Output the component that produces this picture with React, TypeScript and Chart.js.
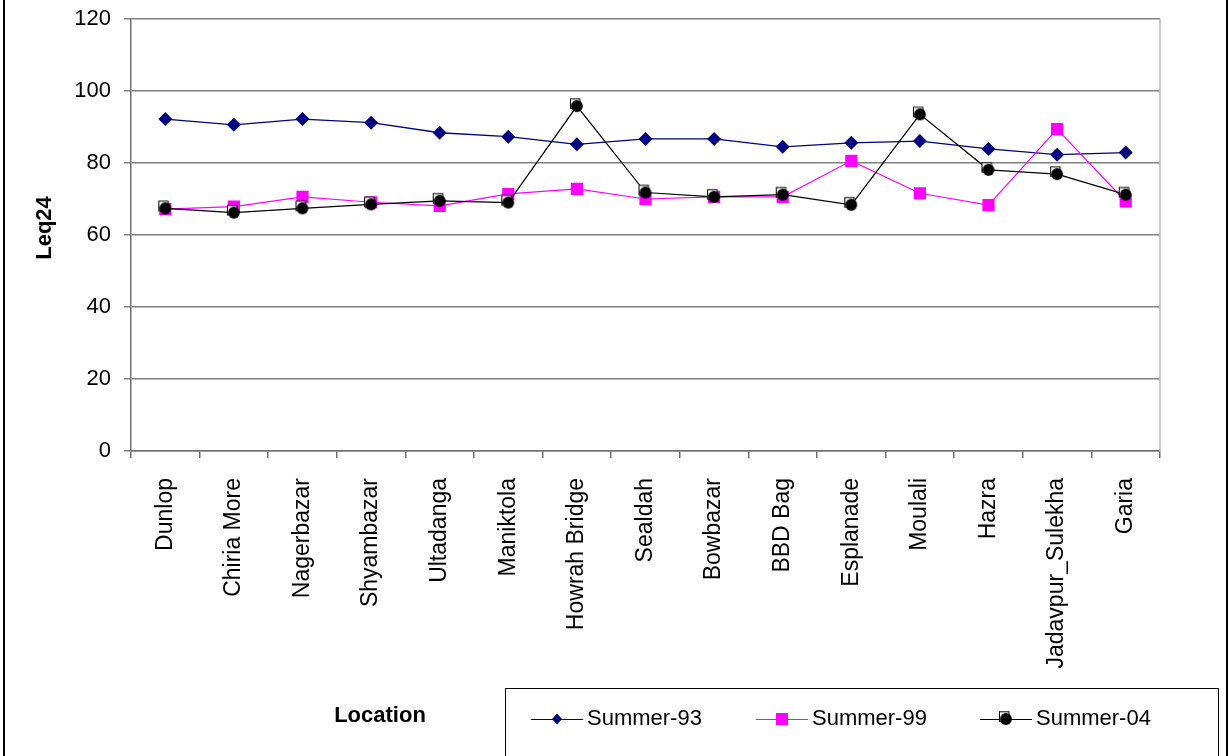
import React, { useEffect, useRef } from "react";
import { Chart, registerables } from "chart.js";

Chart.register(...registerables);

// Noise level (Leq24) at Kolkata monitoring locations, three summer surveys
const locations = [
  "Dunlop",
  "Chiria More",
  "Nagerbazar",
  "Shyambazar",
  "Ultadanga",
  "Maniktola",
  "Howrah Bridge",
  "Sealdah",
  "Bowbazar",
  "BBD Bag",
  "Esplanade",
  "Moulali",
  "Hazra",
  "Jadavpur_Sulekha",
  "Garia",
];
const summer93 = [92.2, 90.6, 92.2, 91.2, 88.4, 87.3, 85.2, 86.7, 86.7, 84.5, 85.6, 86.1, 83.9, 82.3, 82.9];
const summer99 = [67.2, 67.9, 70.6, 69.1, 68.1, 71.4, 72.8, 70.0, 70.6, 70.6, 80.6, 71.6, 68.3, 89.4, 69.3];
const summer04 = [67.4, 66.2, 67.4, 68.5, 69.5, 69.0, 95.8, 71.8, 70.6, 71.2, 68.4, 93.5, 78.1, 76.9, 71.2];
const yTicks = [0, 20, 40, 60, 80, 100, 120];
const seriesNames = ["Summer-93", "Summer-99", "Summer-04"];

const FONT = "Arial, 'Liberation Sans', sans-serif";
const NAVY = "#000080";
const MAGENTA = "#ff00ff";
const BLACK = "#000000";

// Solid disc with a hollow square peeking out at its upper left
function makeDiscMarker(): HTMLCanvasElement {
  const c = document.createElement("canvas");
  c.width = 20;
  c.height = 20;
  const g = c.getContext("2d")!;
  g.fillStyle = "#ffffff";
  g.fillRect(3, 2.5, 10, 10);
  g.strokeStyle = "#000000";
  g.lineWidth = 1;
  g.strokeRect(3.5, 2.8, 9.5, 9.5);
  g.beginPath();
  g.arc(10, 10, 5.9, 0, Math.PI * 2);
  g.fillStyle = "#000000";
  g.fill();
  return c;
}

export default function App() {
  const canvasRef = useRef<HTMLCanvasElement | null>(null);

  useEffect(() => {
    document.body.style.margin = "0";
    const canvas = canvasRef.current;
    if (!canvas) return;
    const disc = makeDiscMarker();

    const framePlugin = {
      id: "frame",
      beforeDraw(chart: any) {
        const ctx = chart.ctx;
        ctx.save();
        ctx.fillStyle = "#ffffff";
        ctx.fillRect(0, 0, chart.width, chart.height);
        ctx.restore();
      },
      afterDraw(chart: any) {
        const ctx: CanvasRenderingContext2D = chart.ctx;
        const a = chart.chartArea;
        ctx.save();
        // plot area right edge
        ctx.strokeStyle = "#b4b4b4";
        ctx.lineWidth = 1.5;
        ctx.beginPath();
        ctx.moveTo(a.right, a.top);
        ctx.lineTo(a.right, a.bottom);
        ctx.stroke();

        // outer chart frame
        ctx.strokeStyle = "#000000";
        ctx.lineWidth = 2;
        ctx.beginPath();
        ctx.moveTo(4, 0);
        ctx.lineTo(4, chart.height);
        ctx.moveTo(1227, 0);
        ctx.lineTo(1227, chart.height);
        ctx.stroke();

        ctx.fillStyle = "#000000";
        ctx.font = `bold 22px ${FONT}`;
        ctx.textAlign = "center";
        ctx.textBaseline = "middle";
        // value axis title
        ctx.save();
        ctx.translate(45, 228);
        ctx.rotate(-Math.PI / 2);
        ctx.fillText("Leq24", 0, 0);
        ctx.restore();
        // category axis title
        ctx.fillText("Location", 380, 716);

        // legend
        ctx.strokeStyle = "#000000";
        ctx.lineWidth = 1;
        ctx.strokeRect(505.5, 688.5, 713, 80);
        const starts = [531, 756, 980];
        const cy = 719;
        chart.data.datasets.forEach((ds: any, i: number) => {
          const x0 = starts[i];
          const cx = x0 + 26;
          ctx.strokeStyle = ds.borderColor;
          ctx.lineWidth = 1.2;
          ctx.beginPath();
          ctx.moveTo(x0, cy + 0.5);
          ctx.lineTo(x0 + 52, cy + 0.5);
          ctx.stroke();
          ctx.fillStyle = ds.backgroundColor;
          if (i === 0) {
            ctx.beginPath();
            ctx.moveTo(cx - 5, cy);
            ctx.lineTo(cx, cy - 5.5);
            ctx.lineTo(cx + 5, cy);
            ctx.lineTo(cx, cy + 5.5);
            ctx.closePath();
            ctx.fill();
          } else if (i === 1) {
            ctx.fillRect(cx - 6, cy - 6, 12, 12);
          } else {
            ctx.drawImage(disc, cx - 10, cy - 10);
          }
          ctx.fillStyle = "#000000";
          ctx.font = `22px ${FONT}`;
          ctx.textAlign = "left";
          ctx.textBaseline = "middle";
          ctx.fillText(ds.label, x0 + 56, cy);
        });
        ctx.restore();
      },
    };

    const chart = new Chart(canvas, {
      type: "line",
      data: {
        labels: locations,
        datasets: [
          {
            label: seriesNames[0],
            data: summer93,
            borderColor: NAVY,
            backgroundColor: NAVY,
            borderWidth: 1.3,
            pointStyle: "rectRot",
            pointRadius: 7,
            pointBorderWidth: 0,
            tension: 0,
            order: 2,
          },
          {
            label: seriesNames[1],
            data: summer99,
            borderColor: MAGENTA,
            backgroundColor: MAGENTA,
            borderWidth: 1.2,
            pointStyle: "rect",
            pointRadius: 8.6,
            pointBorderWidth: 0,
            tension: 0,
            order: 1,
          },
          {
            label: seriesNames[2],
            data: summer04,
            borderColor: BLACK,
            backgroundColor: BLACK,
            borderWidth: 1.2,
            pointStyle: disc,
            pointRadius: 10,
            tension: 0,
            order: 0,
          },
        ],
      },
      options: {
        animation: false,
        responsive: false,
        devicePixelRatio: 1,
        layout: { padding: { left: 0, right: 69, top: 19, bottom: 0 } },
        plugins: {
          legend: { display: false },
          tooltip: { enabled: false },
        },
        scales: {
          x: {
            type: "category",
            offset: true,
            grid: {
              display: true,
              drawOnChartArea: false,
              drawTicks: true,
              tickLength: 7,
              offset: true,
              color: "#707070",
              lineWidth: 1.5,
            },
            border: { display: true, color: "#707070", width: 1.5 },
            ticks: {
              autoSkip: false,
              maxRotation: 90,
              minRotation: 90,
              padding: 20,
              color: "#000000",
              font: { family: FONT, size: 23 },
            },
            afterFit: (s: any) => {
              s.height = 305;
              s.paddingLeft = 0;
              s.paddingRight = 0;
            },
          },
          y: {
            min: 0,
            max: 120,
            afterBuildTicks: (s: any) => {
              s.ticks = yTicks.map((v) => ({ value: v }));
            },
            grid: {
              color: "#808080",
              lineWidth: 1.5,
              tickLength: 7,
              drawTicks: true,
            },
            border: { display: true, color: "#707070", width: 1.5 },
            ticks: {
              padding: 13,
              color: "#000000",
              font: { family: FONT, size: 22 },
            },
            afterFit: (s: any) => {
              s.width = 131;
              s.paddingTop = 0;
              s.paddingBottom = 0;
            },
          },
        },
      },
      plugins: [framePlugin],
    });

    return () => chart.destroy();
  }, []);

  return (
    <div style={{ width: 1229, height: 756, overflow: "hidden" }}>
      <canvas ref={canvasRef} width={1229} height={756} style={{ display: "block" }} />
    </div>
  );
}
